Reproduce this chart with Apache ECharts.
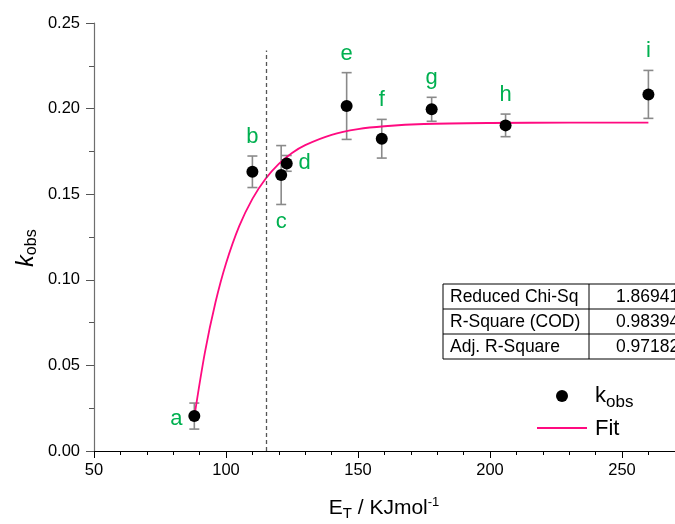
<!DOCTYPE html>
<html>
<head>
<meta charset="utf-8">
<script src="https://cdn.jsdelivr.net/npm/echarts@6/dist/echarts.min.js"></script>
<style>
  html, body { margin: 0; padding: 0; background: #fff; }
  #chart { width: 675px; height: 524px; }
</style>
</head>
<body>
<div id="chart"></div>
<script>
// Measured rate constants vs. solvent polarity E_T
const energy   = [88.0, 110.0, 120.9, 123.0, 145.7, 159.0, 177.9, 205.9, 260.0];
const kObs     = [0.0204, 0.1631, 0.1612, 0.1680, 0.2015, 0.1824, 0.1996, 0.1902, 0.2083];
const kErr     = [0.0076, 0.0092, 0.0172, 0.0046, 0.0195, 0.0113, 0.0070, 0.0066, 0.0140];
const sampleIds = ['a', 'b', 'c', 'd', 'e', 'f', 'g', 'h', 'i'];

// Fitted curve, sampled along E_T
const fitX = [88, 92, 96, 100, 105, 110, 115, 120, 125, 130, 140, 150, 160, 175, 200, 230, 260];
const fitY = [0.0200, 0.0575, 0.0867, 0.1095, 0.1313, 0.1473, 0.1590, 0.1677, 0.1741,
              0.1787, 0.1847, 0.1880, 0.1897, 0.1910, 0.1916, 0.1918, 0.1918];

// Threshold marker
const cutoffX = 115.4;
const cutoffTop = 0.234;

// Fit statistics
const statNames  = ['Reduced Chi-Sq', 'R-Square (COD)', 'Adj. R-Square'];
const statValues = ['1.86941', '0.98394', '0.97182'];

const FONT = '"Liberation Sans", Arial, sans-serif';
const GREEN = '#00b050';
const PINK = '#ff0a80';
const ERR_GREY = '#8a8a8a';

// where each sample letter sits relative to its point
const labelSide = { a: 'left', c: 'bottom', d: 'right' };

const pointData = energy.map((x, i) => [x, kObs[i]]);
const errData = energy.map((x, i) => [x, kObs[i], kErr[i]]);
const fitData = fitX.map((x, i) => [x, fitY[i]]);

const chart = echarts.init(document.getElementById('chart'), null, { renderer: 'canvas' });

function renderErrorBar(params, api) {
  const x = api.value(0), y = api.value(1), e = api.value(2);
  const top = api.coord([x, y + e]);
  const bot = api.coord([x, y - e]);
  const mid = api.coord([x, y]);
  const cap = 5;
  const st = { stroke: ERR_GREY, lineWidth: 1.6 };
  const id = sampleIds[params.dataIndex];
  const side = labelSide[id] || 'top';
  let lx = mid[0], ly = top[1] - 19;
  if (side === 'bottom') { ly = bot[1] + 17; }
  if (side === 'left') { lx = mid[0] - 18; ly = mid[1] + 3; }
  if (side === 'right') { lx = mid[0] + 18; ly = mid[1]; }
  return {
    type: 'group',
    children: [
      { type: 'line', shape: { x1: top[0], y1: top[1], x2: bot[0], y2: bot[1] }, style: st },
      { type: 'line', shape: { x1: top[0] - cap, y1: top[1], x2: top[0] + cap, y2: top[1] }, style: st },
      { type: 'line', shape: { x1: bot[0] - cap, y1: bot[1], x2: bot[0] + cap, y2: bot[1] }, style: st },
      {
        type: 'text', x: lx, y: ly,
        style: { text: id, fill: GREEN, font: '22px ' + FONT, align: 'center', verticalAlign: 'middle' }
      }
    ]
  };
}

// Fit statistics table
const tableLeft = 443, tableDiv = 589, tableRight = 730, rowTop = 284, rowH = 25;
const tableEls = [];
tableEls.push({ type: 'rect', shape: { x: tableLeft, y: rowTop, width: tableRight - tableLeft, height: rowH * 3 },
  style: { fill: '#fff', stroke: '#000', lineWidth: 1 } });
for (let r = 1; r < 3; r++) {
  tableEls.push({ type: 'line', shape: { x1: tableLeft, y1: rowTop + r * rowH, x2: tableRight, y2: rowTop + r * rowH },
    style: { stroke: '#000', lineWidth: 1 } });
}
tableEls.push({ type: 'line', shape: { x1: tableDiv, y1: rowTop, x2: tableDiv, y2: rowTop + rowH * 3 },
  style: { stroke: '#000', lineWidth: 1 } });
statNames.forEach((name, r) => {
  tableEls.push({ type: 'text', x: tableLeft + 7, y: rowTop + r * rowH + rowH / 2 + 1,
    style: { text: name, fill: '#000', font: '17.5px ' + FONT, verticalAlign: 'middle', align: 'left' } });
  tableEls.push({ type: 'text', x: tableDiv + 27, y: rowTop + r * rowH + rowH / 2 + 1,
    style: { text: statValues[r], fill: '#000', font: '17.5px ' + FONT, verticalAlign: 'middle', align: 'left' } });
});

const option = {
  backgroundColor: '#fff',
  animation: false,
  grid: { left: 94, right: -79, top: 23, bottom: 73, containLabel: false, outerBoundsMode: 'none' },
  xAxis: {
    type: 'value', min: 50, max: 300, interval: 50,
    axisLine: { show: true, onZero: false, lineStyle: { color: '#000', width: 1 } },
    axisTick: { show: true, length: 7, lineStyle: { color: '#000', width: 1 } },
    minorTick: { show: true, splitNumber: 5, length: 4, lineStyle: { color: '#000', width: 1 } },
    splitLine: { show: false },
    axisLabel: { color: '#000', fontSize: 16.5, fontFamily: FONT, margin: 11 }
  },
  yAxis: {
    type: 'value', min: 0, max: 0.25, interval: 0.05,
    axisLine: { show: true, onZero: false, lineStyle: { color: '#6e6e6e', width: 1.2 } },
    axisTick: { show: true, length: 8, lineStyle: { color: '#555', width: 1 } },
    minorTick: { show: true, splitNumber: 2, length: 5, lineStyle: { color: '#555', width: 1 } },
    splitLine: { show: false },
    axisLabel: { color: '#000', fontSize: 16.5, fontFamily: FONT, margin: 14, formatter: v => v.toFixed(2) }
  },
  series: [
    {
      name: 'err', type: 'custom', z: 1, data: errData, renderItem: renderErrorBar,
      encode: { x: 0, y: [1] }, clip: false, silent: true
    },
    {
      name: 'Fit', type: 'line', z: 2, data: fitData, smooth: 0.3, symbol: 'none',
      lineStyle: { color: PINK, width: 1.8 },
      markLine: {
        silent: true, symbol: 'none', label: { show: false },
        lineStyle: { color: '#555', type: [4, 3], width: 1.3 },
        data: [[{ coord: [cutoffX, 0] }, { coord: [cutoffX, cutoffTop] }]]
      }
    },
    {
      name: 'kobs', type: 'scatter', z: 3, data: pointData, symbol: 'circle', symbolSize: 12,
      itemStyle: { color: '#000', opacity: 1 }
    }
  ],
  graphic: [
    // y-axis title
    {
      type: 'text', x: 27, y: 248, rotation: Math.PI / 2,
      style: {
        text: '{k|k}{s|obs}', align: 'center', verticalAlign: 'middle', fill: '#000',
        rich: {
          k: { fontSize: 23, fontStyle: 'italic', fontFamily: FONT, fill: '#000' },
          s: { fontSize: 16, fontFamily: FONT, fill: '#000', padding: [10, 0, 0, 0] }
        }
      }
    },
    // x-axis title
    {
      type: 'text', x: 384, y: 508,
      style: {
        text: '{t|E}{s|T}{t| / KJmol}{p|-1}', align: 'center', verticalAlign: 'middle', fill: '#000',
        rich: {
          t: { fontSize: 21, fontFamily: FONT, fill: '#000' },
          s: { fontSize: 15, fontFamily: FONT, fill: '#000', padding: [12, 0, 0, 0] },
          p: { fontSize: 13, fontFamily: FONT, fill: '#000', padding: [0, 0, 12, 0] }
        }
      }
    },
    // legend
    { type: 'circle', shape: { cx: 562, cy: 396, r: 6 }, style: { fill: '#000' } },
    {
      type: 'text', x: 595, y: 396,
      style: {
        text: '{k|k}{s|obs}', align: 'left', verticalAlign: 'middle', fill: '#000',
        rich: {
          k: { fontSize: 22, fontFamily: FONT, fill: '#000' },
          s: { fontSize: 17, fontFamily: FONT, fill: '#000', padding: [12, 0, 0, 0] }
        }
      }
    },
    { type: 'line', shape: { x1: 537, y1: 428, x2: 587, y2: 428 }, style: { stroke: PINK, lineWidth: 1.8 } },
    { type: 'text', x: 595, y: 429, style: { text: 'Fit', font: '22px ' + FONT, fill: '#000', verticalAlign: 'middle' } },
    // statistics table
    { type: 'group', children: tableEls, z: 10 }
  ]
};

chart.setOption(option);
</script>
</body>
</html>
